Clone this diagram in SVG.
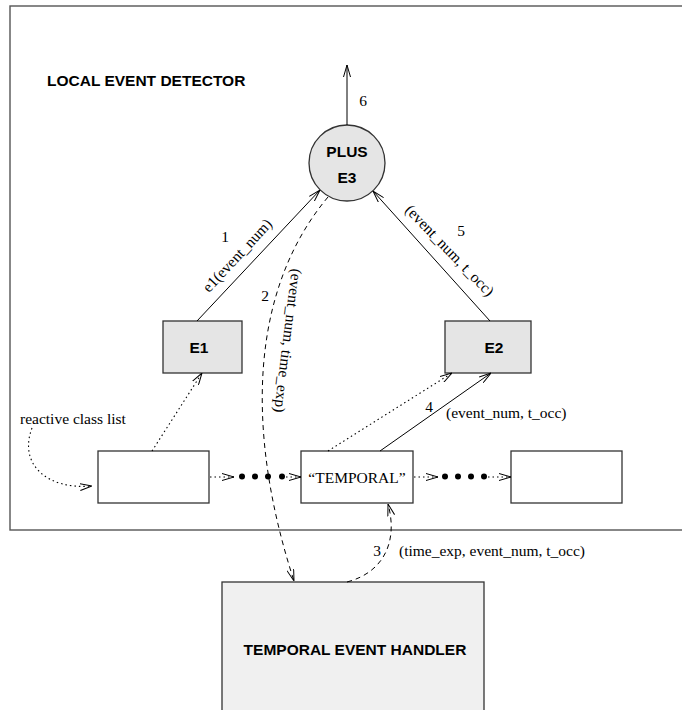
<svg xmlns="http://www.w3.org/2000/svg" width="682" height="710" viewBox="0 0 682 710">
<style>
.serif{font-family:"Liberation Serif","Times New Roman",serif;font-size:15.5px;fill:#000}
.bold{font-family:"Liberation Sans",Arial,sans-serif;font-size:15.5px;font-weight:bold;fill:#000}
.box{stroke:#333;stroke-width:1.3}
.ln{fill:none;stroke:#000;stroke-width:1}
.dot{fill:none;stroke:#000;stroke-width:1.1;stroke-dasharray:1.5 3}
.dash{fill:none;stroke:#000;stroke-width:1;stroke-dasharray:5 4}
</style>
<defs>
<marker id="a" viewBox="0 0 12 8" refX="12" refY="4" markerWidth="12" markerHeight="8" orient="auto" markerUnits="userSpaceOnUse">
<path d="M0,0.5 L12,4 L0,7.5" fill="none" stroke="#000" stroke-width="1"/>
</marker>
</defs>
<rect width="682" height="710" fill="#fff"/>
<g id="frame">
<rect x="10" y="6" width="680" height="524" fill="none" stroke="#555" stroke-width="1.4"/>
<text class="bold" x="47" y="86">LOCAL EVENT DETECTOR</text>
</g>
<g id="plus">
<circle cx="347" cy="163" r="38" fill="#e5e5e5" stroke="#333" stroke-width="1.3"/>
<text class="bold" x="347" y="157" text-anchor="middle">PLUS</text>
<text class="bold" x="347" y="183" text-anchor="middle">E3</text>
</g>
<g id="e1">
<rect class="box" x="163" y="321" width="79" height="52" fill="#e5e5e5"/>
<text class="bold" x="199" y="353" text-anchor="middle">E1</text>
</g>
<g id="e2">
<rect class="box" x="445" y="321" width="86" height="52" fill="#e5e5e5"/>
<text class="bold" x="494" y="353" text-anchor="middle">E2</text>
</g>
<g id="list1">
<rect class="box" x="98" y="451" width="111" height="52" fill="#fff"/>
</g>
<g id="temporal">
<rect class="box" x="301" y="451" width="112" height="52" fill="#fff"/>
<text class="serif" x="357" y="483" text-anchor="middle">“TEMPORAL”</text>
</g>
<g id="list3">
<rect class="box" x="511" y="451" width="111" height="52" fill="#fff"/>
</g>
<g id="handler">
<rect class="box" x="222" y="582" width="262" height="140" fill="#f0f0f0"/>
<text class="bold" x="355" y="655" text-anchor="middle">TEMPORAL EVENT HANDLER</text>
</g>
<g id="connectors">
<line class="ln" x1="347" y1="125" x2="347" y2="65" marker-end="url(#a)"/>
<text class="serif" x="363" y="106" text-anchor="middle">6</text>
<line class="ln" x1="197" y1="321" x2="320" y2="190" marker-end="url(#a)"/>
<text class="serif" x="225" y="242" text-anchor="middle">1</text>
<text class="serif" x="241" y="259" text-anchor="middle" transform="rotate(-47 241 259)">e1(event_num)</text>
<line class="ln" x1="490" y1="321" x2="373" y2="191" marker-end="url(#a)"/>
<text class="serif" x="461" y="236" text-anchor="middle">5</text>
<text class="serif" x="446" y="254" text-anchor="middle" transform="rotate(46 446 254)">(event_num, t_occ)</text>
<path class="dash" d="M328,197 C250,290 245,430 294,581" marker-end="url(#a)"/>
<text class="serif" x="265" y="301" text-anchor="middle">2</text>
<text class="serif" x="283" y="340" text-anchor="middle" transform="rotate(97 283 340)">(event_num, time_exp)</text>
<line class="ln" x1="380" y1="451" x2="491" y2="373" marker-end="url(#a)"/>
<text class="serif" x="429" y="412" text-anchor="middle">4</text>
<text class="serif" x="446" y="418">(event_num, t_occ)</text>
<line class="dot" x1="328" y1="451" x2="452" y2="373" marker-end="url(#a)"/>
<line class="dot" x1="152" y1="451" x2="202" y2="373" marker-end="url(#a)"/>
<path class="dot" d="M32,428 C18,465 48,490 92,486" marker-end="url(#a)"/>
<text class="serif" x="20" y="424">reactive class list</text>
<line class="dot" x1="210" y1="477" x2="234" y2="477" marker-end="url(#a)"/>
<g fill="#000">
<circle cx="242" cy="476.5" r="3"/><circle cx="255" cy="476.5" r="3"/><circle cx="268" cy="476.5" r="3"/><circle cx="282" cy="476.5" r="3"/>
<circle cx="445" cy="476.5" r="3"/><circle cx="458" cy="476.5" r="3"/><circle cx="471" cy="476.5" r="3"/><circle cx="484" cy="476.5" r="3"/>
</g>
<line class="dot" x1="286" y1="477" x2="301" y2="477" marker-end="url(#a)"/>
<line class="dot" x1="414" y1="477" x2="438" y2="477" marker-end="url(#a)"/>
<line class="dot" x1="488" y1="477" x2="511" y2="477" marker-end="url(#a)"/>
<path class="dash" d="M347,582 C385,572 398,540 388,504" marker-end="url(#a)"/>
<text class="serif" x="377" y="556" text-anchor="middle">3</text>
<text class="serif" x="399" y="556">(time_exp, event_num, t_occ)</text>
</g>
</svg>
